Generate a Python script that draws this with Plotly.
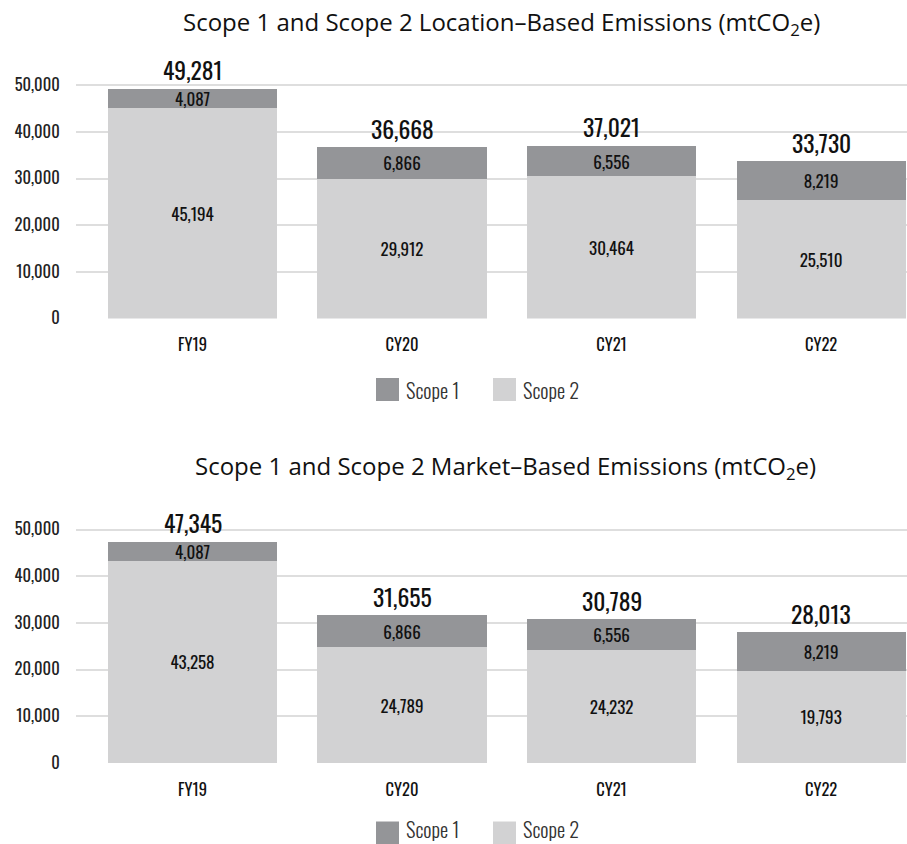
import plotly.graph_objects as go
from plotly.subplots import make_subplots

# ---- data ----
periods = ["FY19", "CY20", "CY21", "CY22"]
series_names = ["Scope 1", "Scope 2"]

loc_scope1 = [4087, 6866, 6556, 8219]
loc_scope2 = [45194, 29912, 30464, 25510]
loc_totals = [49281, 36668, 37021, 33730]

mkt_scope1 = [4087, 6866, 6556, 8219]
mkt_scope2 = [43258, 24789, 24232, 19793]
mkt_totals = [47345, 31655, 30789, 28013]

chart_titles = [
    "Scope 1 and Scope 2 Location–Based Emissions (mtCO<sub>2</sub>e)",
    "Scope 1 and Scope 2 Market–Based Emissions (mtCO<sub>2</sub>e)",
]
y_ticks = [0, 10000, 20000, 30000, 40000, 50000]

# ---- styling ----
W, H = 907, 844
COLORS = {"Scope 1": "#949598", "Scope 2": "#d2d2d3"}
NUM_FONT = "Oswald, Archivo Narrow, Roboto Condensed, sans-serif"
TITLE_FONT = "Open Sans"
GRID = "#dedede"
Y_MAX = 52000

fig = make_subplots(rows=2, cols=1, vertical_spacing=0.1)


def py(pixel):
    """Convert a pixel row (from the top) to paper y."""
    return (H - pixel) / H


# pixel rows of the zero line and plot top for each panel
panels = [
    dict(zero=318.5, top=318.5 - Y_MAX * 46.65 / 10000, title_y=23, legend_y=389.5,
         s1=loc_scope1, s2=loc_scope2, tot=loc_totals, title=chart_titles[0], title_x=502),
    dict(zero=763.0, top=763.0 - Y_MAX * 46.7 / 10000, title_y=467, legend_y=833,
         s1=mkt_scope1, s2=mkt_scope2, tot=mkt_totals, title=chart_titles[1], title_x=505),
]

L_MARGIN = 76
plot_w = W - L_MARGIN

for i, p in enumerate(panels, start=1):
    for name, vals in ((series_names[1], p["s2"]), (series_names[0], p["s1"])):
        fig.add_trace(
            go.Bar(
                x=periods, y=vals, name=name,
                marker=dict(color=COLORS[name], line=dict(width=0)),
                text=[f"{v:,}" for v in vals],
                textposition="inside", insidetextanchor="middle",
                constraintext="none",
                textfont=dict(family=NUM_FONT, size=17, color="#111111", weight=400),
                showlegend=False, hoverinfo="skip",
            ),
            row=i, col=1,
        )
    # totals above each stack
    for cat, tot in zip(periods, p["tot"]):
        fig.add_annotation(
            x=cat, y=tot, xref=f"x{'' if i == 1 else i}", yref=f"y{'' if i == 1 else i}",
            text=f"{tot:,}", showarrow=False, yanchor="middle", yshift=19,
            font=dict(family=NUM_FONT, size=23.5, color="#111111", weight=400),
        )
    # chart title
    fig.add_annotation(
        x=(p["title_x"] - L_MARGIN) / plot_w, y=py(p["title_y"]), xref="paper", yref="paper",
        text=p["title"], showarrow=False, xanchor="center", yanchor="middle",
        font=dict(family=TITLE_FONT, size=24, color="#111111"),
    )
    # legend: swatches + labels (label box kept inside the page)
    legend_x = [376, 493]
    label_y = min(p["legend_y"], H - 15)
    for name, lx in zip(series_names, legend_x):
        fig.add_shape(
            type="rect", xref="paper", yref="paper",
            x0=(lx - L_MARGIN) / plot_w, x1=(lx + 23 - L_MARGIN) / plot_w,
            y0=py(p["legend_y"] + 11.5), y1=py(p["legend_y"] - 11.5),
            fillcolor=COLORS[name], line=dict(width=0),
        )
        fig.add_annotation(
            x=(lx + 28 - L_MARGIN) / plot_w, y=py(label_y), xref="paper", yref="paper",
            text=name, showarrow=False, xanchor="left", yanchor="middle",
            font=dict(family=NUM_FONT, size=20.5, color="#333333", weight=300),
        )

    fig.update_yaxes(
        range=[0, Y_MAX], tickvals=y_ticks, tickformat=",d",
        domain=[py(p["zero"]), py(p["top"])], automargin=False,
        showgrid=True, gridcolor=GRID, gridwidth=1.5, zeroline=False,
        ticks="outside", ticklen=12, tickcolor="rgba(0,0,0,0)",
        tickfont=dict(family=NUM_FONT, size=16.5, color="#222222", weight=400),
        showline=False, row=i, col=1,
    )
    fig.update_xaxes(
        range=[-0.556, 3.41], showgrid=False, zeroline=False, showline=False,
        automargin=False,
        ticks="outside", ticklen=12, tickcolor="rgba(0,0,0,0)",
        tickfont=dict(family=NUM_FONT, size=16.5, color="#111111", weight=400),
        row=i, col=1,
    )

fig.update_layout(
    barmode="stack", bargap=0.193,
    width=W, height=H,
    margin=dict(l=L_MARGIN, r=0, t=0, b=0, autoexpand=False),
    plot_bgcolor="white", paper_bgcolor="white",
    showlegend=False,
)

fig.write_html("out.html")
